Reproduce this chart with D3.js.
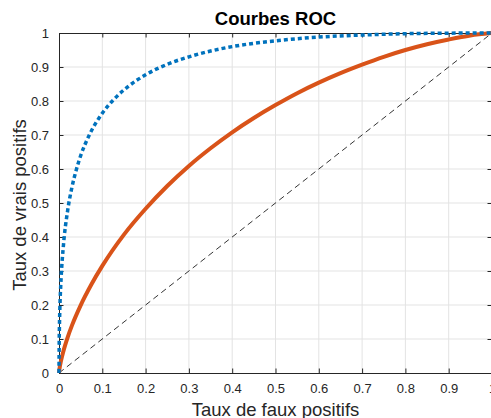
<!DOCTYPE html>
<html>
<head>
<meta charset="utf-8">
<script src="https://cdn.jsdelivr.net/npm/d3@7"></script>
<style>
  body { margin: 0; background: #fff; }
  svg { display: block; font-family: "Liberation Sans", Arial, sans-serif; }
</style>
</head>
<body>
<div id="chart"></div>
<script>
// ROC data
const fprA = [0, 0.0005, 0.001, 0.002, 0.005, 0.01, 0.02, 0.03, 0.04, 0.05, 0.07, 0.1, 0.13, 0.16, 0.2, 0.25, 0.3, 0.35, 0.4, 0.5, 0.6, 0.7, 0.8, 0.9, 1];
const tprA = [0, 0.098, 0.138, 0.19, 0.282, 0.372, 0.478, 0.547, 0.598, 0.639, 0.7, 0.764, 0.809, 0.843, 0.877, 0.908, 0.93, 0.947, 0.96, 0.977, 0.988, 0.994, 0.998, 0.9995, 1];

const fprB = [0, 0.001, 0.005, 0.01, 0.02, 0.03, 0.05, 0.075, 0.1, 0.15, 0.2, 0.25, 0.3, 0.35, 0.4, 0.45, 0.5, 0.55, 0.6, 0.65, 0.7, 0.75, 0.8, 0.85, 0.9, 0.95, 1];
const tprB = [0, 0.011, 0.038, 0.0635, 0.105, 0.14, 0.199, 0.261, 0.315, 0.407, 0.483, 0.55, 0.609, 0.661, 0.708, 0.75, 0.788, 0.823, 0.854, 0.882, 0.907, 0.93, 0.95, 0.967, 0.981, 0.9928, 1];

const chance = [0, 1];
const xTicks = [0, 0.1, 0.2, 0.3, 0.4, 0.5, 0.6, 0.7, 0.8, 0.9, 1];
const yTicks = [0, 0.1, 0.2, 0.3, 0.4, 0.5, 0.6, 0.7, 0.8, 0.9, 1];

const width = 491, height = 418;
const mLeft = 59, mRight = 492, mTop = 33, mBottom = 373;

const svg = d3.select("#chart").append("svg")
    .attr("width", width)
    .attr("height", height);

const x = d3.scaleLinear().domain([0, 1]).range([mLeft, mRight]);
const y = d3.scaleLinear().domain([0, 1]).range([mBottom, mTop]);

const fmt = d => d === 0 ? "0" : d === 1 ? "1" : d3.format(".1f")(d);

// grid
svg.append("g").selectAll("line").data(xTicks.slice(1, -1)).enter().append("line")
    .attr("x1", d => x(d)).attr("x2", d => x(d))
    .attr("y1", mTop).attr("y2", mBottom)
    .attr("stroke", "#e3e3e3").attr("stroke-width", 1);
svg.append("g").selectAll("line").data(yTicks.slice(1, -1)).enter().append("line")
    .attr("x1", mLeft).attr("x2", mRight)
    .attr("y1", d => y(d)).attr("y2", d => y(d))
    .attr("stroke", "#e3e3e3").attr("stroke-width", 1);

// axes (box with inward ticks)
const axisColor = "#262626";
const styleAxis = g => {
    g.select(".domain").attr("stroke", axisColor);
    g.selectAll(".tick line").attr("stroke", axisColor);
    g.selectAll(".tick text").attr("fill", axisColor).attr("font-size", "13px")
        .attr("font-family", "'Liberation Sans', Arial, sans-serif");
};

svg.append("g")
    .attr("transform", `translate(0,${mBottom})`)
    .call(d3.axisBottom(x).tickValues(xTicks).tickFormat(fmt).tickSizeInner(-4.5).tickSizeOuter(0).tickPadding(10.5))
    .call(styleAxis);
svg.append("g")
    .attr("transform", `translate(0,${mTop})`)
    .call(d3.axisTop(x).tickValues(xTicks).tickFormat("").tickSizeInner(-4.5).tickSizeOuter(0))
    .call(styleAxis);
svg.append("g")
    .attr("transform", `translate(${mLeft},0)`)
    .call(d3.axisLeft(y).tickValues(yTicks).tickFormat(fmt).tickSizeInner(-4.5).tickSizeOuter(0).tickPadding(10))
    .call(styleAxis);
svg.append("g")
    .attr("transform", `translate(${mRight},0)`)
    .call(d3.axisRight(y).tickValues(yTicks).tickFormat("").tickSizeInner(-4.5).tickSizeOuter(0))
    .call(styleAxis);

// chance line
svg.append("line")
    .attr("x1", x(chance[0])).attr("y1", y(chance[0]))
    .attr("x2", x(chance[1])).attr("y2", y(chance[1]))
    .attr("stroke", "#000").attr("stroke-width", 0.8)
    .attr("stroke-dasharray", "6,4");

const line = d3.line().x(d => x(d[0])).y(d => y(d[1])).curve(d3.curveMonotoneX);

// orange solid curve
svg.append("path")
    .datum(d3.zip(fprB, tprB))
    .attr("d", line)
    .attr("fill", "none")
    .attr("stroke", "#D95319")
    .attr("stroke-width", 4);

// blue dotted curve
svg.append("path")
    .datum(d3.zip(fprA, tprA))
    .attr("d", line)
    .attr("fill", "none")
    .attr("stroke", "#0072BD")
    .attr("stroke-width", 3.5)
    .attr("stroke-dasharray", "4,3");

// texts
svg.append("text")
    .attr("x", (mLeft + mRight) / 2).attr("y", 25)
    .attr("text-anchor", "middle")
    .attr("font-weight", "bold").attr("font-size", "18.5px")
    .attr("fill", "#000")
    .text("Courbes ROC");

svg.append("text")
    .attr("x", (mLeft + mRight) / 2).attr("y", 416)
    .attr("text-anchor", "middle")
    .attr("font-size", "18.5px")
    .attr("fill", axisColor)
    .text("Taux de faux positifs");

svg.append("text")
    .attr("transform", `translate(26,${(mTop + mBottom) / 2 + 2}) rotate(-90)`)
    .attr("text-anchor", "middle")
    .attr("font-size", "18.5px")
    .attr("fill", axisColor)
    .text("Taux de vrais positifs");
</script>
</body>
</html>
